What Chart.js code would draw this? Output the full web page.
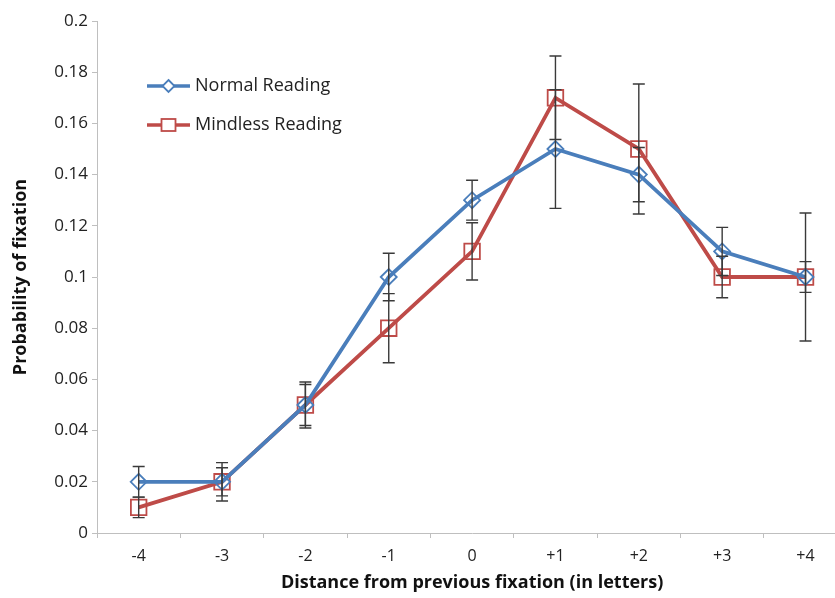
<!DOCTYPE html>
<html>
<head>
<meta charset="utf-8">
<script src="https://cdn.jsdelivr.net/npm/chart.js@4/dist/chart.umd.min.js"></script>
<style>
  html, body { margin: 0; padding: 0; background: #fff; overflow: hidden; }
  #wrap { width: 860px; height: 598px; }
</style>
</head>
<body>
<div id="wrap"><canvas id="c" width="860" height="598"></canvas></div>
<script>
const categories = ['-4', '-3', '-2', '-1', '0', '+1', '+2', '+3', '+4'];
const normalReading = [0.02, 0.02, 0.05, 0.10, 0.13, 0.15, 0.14, 0.11, 0.10];
const mindlessReading = [0.01, 0.02, 0.05, 0.08, 0.11, 0.17, 0.15, 0.10, 0.10];
const normalError = [0.006, 0.0075, 0.009, 0.0093, 0.0078, 0.0232, 0.0106, 0.0094, 0.006];
const mindlessError = [0.004, 0.0055, 0.008, 0.0135, 0.0112, 0.0163, 0.0254, 0.0081, 0.025];
const yTickLabels = ['0', '0.02', '0.04', '0.06', '0.08', '0.1', '0.12', '0.14', '0.16', '0.18', '0.2'];
const seriesLabels = ['Normal Reading', 'Mindless Reading'];

const BLUE = '#4a7ebb';
const RED = '#be4b48';
const AXIS = '#bfbfbf';
const FONT = '"Open Sans", Lato, sans-serif';

const errorBarPlugin = {
  id: 'errorBars',
  afterDatasetsDraw(chart) {
    const ctx = chart.ctx;
    const x = chart.scales.x, y = chart.scales.y;
    const errs = [normalError, mindlessError];
    ctx.save();
    ctx.strokeStyle = '#3a3a3a';
    ctx.lineWidth = 1.4;
    chart.data.datasets.forEach((ds, di) => {
      ds.data.forEach((v, i) => {
        const e = errs[di][i];
        const px = x.getPixelForValue(i);
        const top = y.getPixelForValue(v + e);
        const bot = y.getPixelForValue(v - e);
        ctx.beginPath();
        ctx.moveTo(px, top); ctx.lineTo(px, bot);
        ctx.moveTo(px - 6, top); ctx.lineTo(px + 6, top);
        ctx.moveTo(px - 6, bot); ctx.lineTo(px + 6, bot);
        ctx.stroke();
      });
    });
    ctx.restore();
  }
};

const legendPlugin = {
  id: 'insideLegend',
  afterDraw(chart) {
    const ctx = chart.ctx;
    const a = chart.chartArea;
    ctx.save();
    chart.data.datasets.forEach((ds, i) => {
      const yy = a.top + 65 + i * 39;
      const x0 = a.left + 50, x1 = a.left + 93, xm = (x0 + x1) / 2;
      ctx.strokeStyle = ds.borderColor;
      ctx.lineWidth = 3.5;
      ctx.beginPath(); ctx.moveTo(x0, yy); ctx.lineTo(x1, yy); ctx.stroke();
      ctx.lineWidth = 1.8;
      ctx.fillStyle = '#fff';
      if (ds.pointStyle === 'rectRot') {
        ctx.beginPath();
        ctx.moveTo(xm, yy - 6); ctx.lineTo(xm + 6, yy); ctx.lineTo(xm, yy + 6); ctx.lineTo(xm - 6, yy);
        ctx.closePath(); ctx.fill(); ctx.stroke();
      } else {
        ctx.fillRect(xm - 7, yy - 6, 14, 12);
        ctx.strokeRect(xm - 7, yy - 6, 14, 12);
      }
      ctx.fillStyle = '#222';
      ctx.font = '18px ' + FONT;
      ctx.textBaseline = 'middle';
      ctx.fillText(ds.label, x1 + 5, yy);
    });
    ctx.restore();
  }
};

new Chart(document.getElementById('c'), {
  type: 'line',
  data: {
    labels: categories,
    datasets: [
      {
        label: seriesLabels[0],
        data: normalReading,
        borderColor: BLUE,
        backgroundColor: 'rgba(0,0,0,0)',
        borderWidth: 3.8,
        pointStyle: 'rectRot',
        pointRadius: 8,
        pointBorderWidth: 1.8,
        pointBorderColor: BLUE,
        pointBackgroundColor: 'rgba(0,0,0,0)',
        tension: 0
      },
      {
        label: seriesLabels[1],
        data: mindlessReading,
        borderColor: RED,
        backgroundColor: 'rgba(0,0,0,0)',
        borderWidth: 3.8,
        pointStyle: 'rect',
        pointRadius: 11,
        pointBorderWidth: 1.8,
        pointBorderColor: RED,
        pointBackgroundColor: 'rgba(0,0,0,0)',
        tension: 0
      }
    ]
  },
  options: {
    responsive: false,
    animation: false,
    layout: { padding: { top: 21, right: 0, bottom: 0, left: 0 } },
    plugins: { legend: { display: false }, tooltip: { enabled: false } },
    scales: {
      x: {
        offset: true,
        grid: { display: true, offset: true, drawOnChartArea: false, drawTicks: true, tickLength: 5, color: AXIS, tickColor: AXIS },
        border: { display: true, color: AXIS, width: 1 },
        ticks: { color: '#222', font: { family: FONT, size: 16 }, padding: 9, maxRotation: 0 },
        title: { display: true, text: 'Distance from previous fixation (in letters)', color: '#111', font: { family: FONT, size: 18, weight: 'bold' }, padding: { top: 0, bottom: 4 } },
        afterFit(scale) { scale.height = 65; }
      },
      y: {
        min: 0, max: 0.2,
        grid: { display: true, drawOnChartArea: false, drawTicks: true, tickLength: 5, color: AXIS, tickColor: AXIS },
        border: { display: true, color: AXIS, width: 1 },
        ticks: {
          stepSize: 0.02,
          color: '#222',
          font: { family: FONT, size: 17 },
          padding: 4,
          callback: (v, i) => yTickLabels[i]
        },
        title: { display: true, text: 'Probability of fixation', color: '#111', font: { family: FONT, size: 18, weight: 'bold' }, padding: { top: 10, bottom: 0 } },
        afterFit(scale) { scale.width = 97; }
      }
    }
  },
  plugins: [errorBarPlugin, legendPlugin]
});
</script>
</body>
</html>
